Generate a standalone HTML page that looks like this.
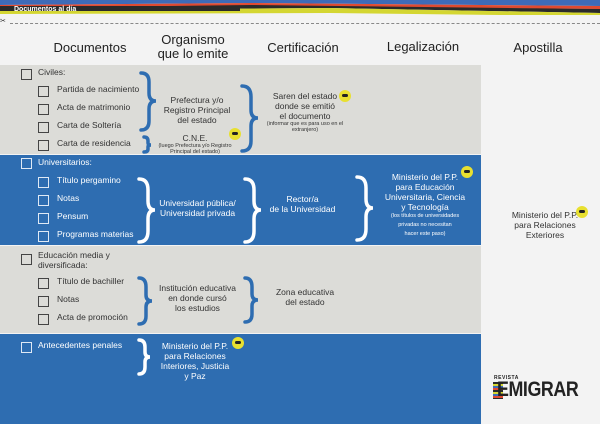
<!DOCTYPE html>
<html><head><meta charset="utf-8"><style>
body{margin:0;width:600px;height:424px;overflow:hidden;background:#f3f3f3;font-family:"Liberation Sans",sans-serif;position:relative}
.a{position:absolute}
.row{position:absolute;left:0;width:481px}
.g{background:#dcdcd8}.b{background:#2e6db1}
.h{position:absolute;font-size:13px;color:#222;text-align:center;line-height:14px}
.cb{position:absolute;width:9px;height:9px;border:1.3px solid #444}
.b .cb,.cw{border-color:#dfe9f5}
.t{position:absolute;font-size:8.5px;color:#333;white-space:nowrap}
.c{position:absolute;text-align:center;font-size:8.5px;line-height:10px;color:#333}
.w,.c.w,.t.w{color:#fff}
.s{font-size:5.5px;line-height:6px}
.ic{position:absolute;width:12px;height:12px;border-radius:50%;background:#e8e030}
.ic:after{content:"";position:absolute;left:3px;top:4px;width:6px;height:3px;background:#222;border-radius:2px}
</style></head><body>
<svg class="a" style="left:0;top:0" width="600" height="16">
<polygon points="0,0 600,0 600,6 250,3 0,5" fill="#3e6bb8"/>
<polygon points="0,5 250,3 600,6 600,9 250,6 0,8" fill="#e04a30"/>
<polygon points="0,8 250,5 600,9 600,13 330,8 0,10" fill="#2a2a2a"/>
<polygon points="0,10 330,8 600,13 600,15 500,15 330,13 0,14" fill="#d4d632"/>
<rect x="0" y="6" width="240" height="5" fill="#2a2a2a"/>
<text x="14" y="11" font-family="Liberation Sans" font-size="7" font-weight="bold" fill="#fff">Documentos al día</text>
</svg>
<div class="a" style="left:0;top:17px;font-size:7px;color:#333">✂</div>
<div class="a" style="left:10px;top:23px;width:590px;border-top:1px dashed #888"></div>
<div class="h" style="left:40px;top:41px;width:100px">Documentos</div>
<div class="h" style="left:143px;top:33px;width:100px">Organismo<br>que lo emite</div>
<div class="h" style="left:253px;top:41px;width:100px">Certificación</div>
<div class="h" style="left:373px;top:40px;width:100px">Legalización</div>
<div class="h" style="left:488px;top:41px;width:100px">Apostilla</div>

<div class="row g" style="top:65px;height:89px"></div>
<div class="row b" style="top:155px;height:90px"></div>
<div class="row g" style="top:246px;height:87px"></div>
<div class="row b" style="top:334px;height:90px"></div>

<div class="cb" style="left:21px;top:69px"></div><div class="t" style="left:38px;top:67px">Civiles:</div>
<div class="cb" style="left:38px;top:86px"></div><div class="t" style="left:57px;top:84px">Partida de nacimiento</div>
<div class="cb" style="left:38px;top:104px"></div><div class="t" style="left:57px;top:102px">Acta de matrimonio</div>
<div class="cb" style="left:38px;top:122px"></div><div class="t" style="left:57px;top:120px">Carta de Soltería</div>
<div class="cb" style="left:38px;top:140px"></div><div class="t" style="left:57px;top:138px">Carta de residencia</div>
<div class="c" style="left:152px;top:95px;width:90px">Prefectura y/o<br>Registro Principal<br>del estado</div>
<div class="c" style="left:150px;top:133px;width:90px">C.N.E.<div class="s">(luego Prefectura y/o Registro<br>Principal del estado)</div></div>
<div class="ic" style="left:229px;top:128px"></div>
<div class="c" style="left:255px;top:91px;width:100px">Saren del estado<br>donde se emitió<br>el documento<div class="s">(informar que es para uso en el<br>extranjero)</div></div>
<div class="ic" style="left:339px;top:90px"></div>

<div class="cb cw" style="left:21px;top:158px"></div><div class="t w" style="left:38px;top:157px">Universitarios:</div>
<div class="cb cw" style="left:38px;top:177px"></div><div class="t w" style="left:57px;top:175px">Título pergamino</div>
<div class="cb cw" style="left:38px;top:195px"></div><div class="t w" style="left:57px;top:193px">Notas</div>
<div class="cb cw" style="left:38px;top:213px"></div><div class="t w" style="left:57px;top:211px">Pensum</div>
<div class="cb cw" style="left:38px;top:231px"></div><div class="t w" style="left:57px;top:229px">Programas materias</div>
<div class="c w" style="left:150px;top:198px;width:95px">Universidad pública/<br>Universidad privada</div>
<div class="c w" style="left:255px;top:194px;width:95px">Rector/a<br>de la Universidad</div>
<div class="c w" style="left:370px;top:172px;width:110px;font-size:8.5px">Ministerio del P.P.<br>para Educación<br>Universitaria, Ciencia<br>y Tecnología<div class="s" style="line-height:9px">(los títulos de universidades<br>privadas no necesitan<br>hacer este paso)</div></div>
<div class="ic" style="left:461px;top:166px"></div>
<div class="c" style="left:490px;top:210px;width:110px">Ministerio del P.P.<br>para Relaciones<br>Exteriores</div>
<div class="ic" style="left:576px;top:206px"></div>

<div class="cb" style="left:21px;top:254px"></div><div class="t" style="left:38px;top:250px;line-height:10px">Educación media y<br>diversificada:</div>
<div class="cb" style="left:38px;top:278px"></div><div class="t" style="left:57px;top:276px">Título de bachiller</div>
<div class="cb" style="left:38px;top:296px"></div><div class="t" style="left:57px;top:294px">Notas</div>
<div class="cb" style="left:38px;top:314px"></div><div class="t" style="left:57px;top:312px">Acta de promoción</div>
<div class="c" style="left:150px;top:283px;width:95px">Institución educativa<br>en donde cursó<br>los estudios</div>
<div class="c" style="left:265px;top:287px;width:80px">Zona educativa<br>del estado</div>

<div class="cb cw" style="left:21px;top:342px"></div><div class="t w" style="left:38px;top:340px">Antecedentes penales</div>
<div class="c w" style="left:150px;top:341px;width:90px">Ministerio del P.P.<br>para Relaciones<br>Interiores, Justicia<br>y Paz</div>
<div class="ic" style="left:232px;top:337px"></div>

<svg class="a" style="left:0;top:0" width="481" height="424" fill="none" stroke-width="3.5" stroke-linecap="round">
<g stroke="#2e6db1">
<path d="M141,73 Q149,73 149,82 L149,93 Q149,101 156,101 Q149,101 149,109 L149,121 Q149,130 141,130"/>
<path d="M144,137 Q148,137 148,141 L148,143 Q148,145 151,145 Q148,145 148,147 L148,149 Q148,152 144,152"/>
<path d="M242,86 Q251,86 251,97 L251,110 Q251,118 258,118 Q251,118 251,126 L251,141 Q251,151 242,151"/>
<path d="M139,278 Q146,278 146,287 L146,295 Q146,301 152,301 Q146,301 146,307 L146,316 Q146,324 139,324"/>
<path d="M245,278 Q252,278 252,287 L252,294 Q252,300 258,300 Q252,300 252,306 L252,314 Q252,322 245,322"/>
</g>
<g stroke="#ffffff">
<path d="M139,179 Q148,179 148,190 L148,201 Q148,210 155,210 Q148,210 148,219 L148,231 Q148,242 139,242"/>
<path d="M245,179 Q254,179 254,190 L254,201 Q254,210 261,210 Q254,210 254,219 L254,231 Q254,242 245,242"/>
<path d="M357,177 Q366,177 366,188 L366,199 Q366,208 373,208 Q366,208 366,217 L366,229 Q366,240 357,240"/>
<path d="M139,340 Q145,340 145,347 L145,352 Q145,357 150,357 Q145,357 145,362 L145,367 Q145,374 139,374"/>
</g>
</svg>

<div class="a" style="left:494px;top:375px;font-size:5px;font-weight:bold;color:#222;letter-spacing:0.5px">REVISTA</div>
<div class="a" style="left:493px;top:382px;width:10px;height:17px;background:repeating-linear-gradient(#2a2a2a 0 2px,#d4d632 2px 4px,#3e6bb8 4px 6px,#e04a30 6px 8px)"></div>
<div class="a" style="left:497px;top:378px;font-size:21px;font-weight:bold;color:#222;letter-spacing:-0.5px;transform:scaleX(0.85);transform-origin:left">EMIGRAR</div>
</body></html>
